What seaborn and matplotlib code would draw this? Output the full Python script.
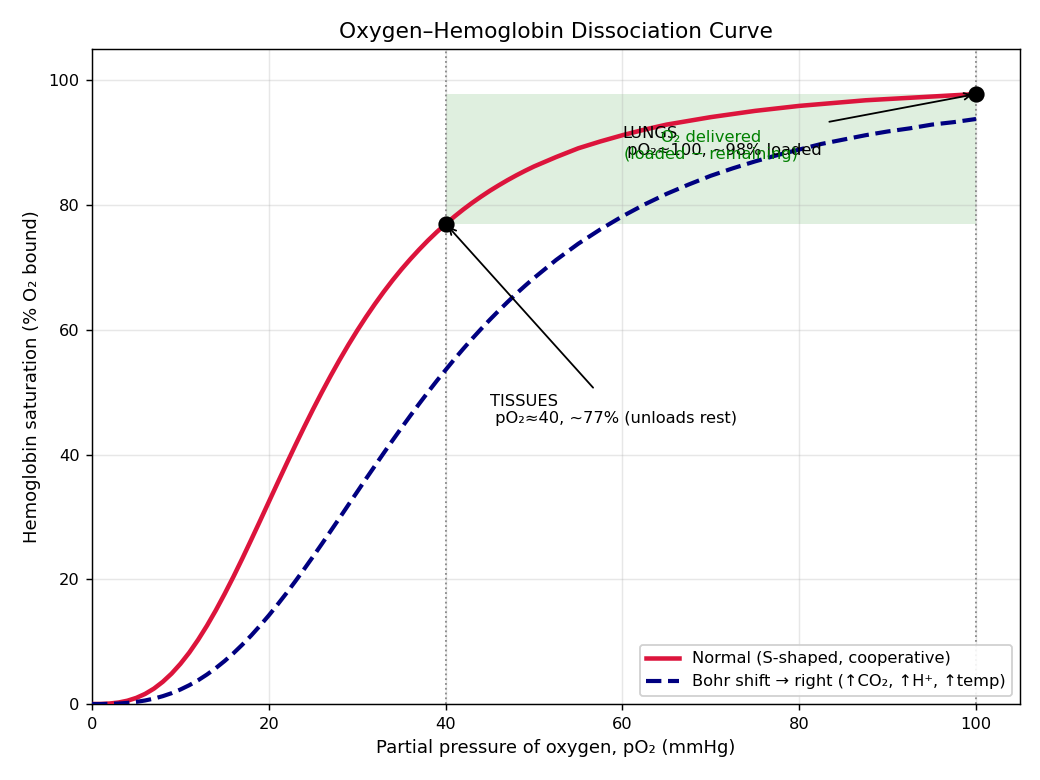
import numpy as np
import pandas as pd
import matplotlib
matplotlib.use('Agg')
import matplotlib.pyplot as plt
import seaborn as sns

# Hodnoty odčítané z grafu (pO2 v mmHg, saturácia v %)
po2 = [0, 1, 2, 3, 4, 5, 6, 7, 8, 9, 10, 11, 12, 13, 14, 15, 16, 17, 18, 19, 20,
       21, 22, 23, 24, 25, 26, 27, 28, 29, 30, 31, 32, 33, 34, 35, 36, 37, 38, 39,
       40, 41, 42, 43, 44, 45, 46, 47, 48, 49, 50, 52.5, 55, 57.5, 60, 62.5, 65,
       67.5, 70, 72.5, 75, 77.5, 80, 82.5, 85, 87.5, 90, 92.5, 95, 97.5, 100]
normal_sat = [0, 0.01, 0.08, 0.24, 0.53, 0.98, 1.62, 2.47, 3.56, 4.88, 6.45, 8.25,
              10.3, 12.56, 15.02, 17.66, 20.43, 23.33, 26.32, 29.35, 32.42, 35.48,
              38.51, 41.5, 44.42, 47.26, 50.0, 52.64, 55.17, 57.59, 59.89, 62.07,
              64.14, 66.1, 67.95, 69.69, 71.32, 72.86, 74.32, 75.68, 76.96, 78.17,
              79.3, 80.36, 81.35, 82.29, 83.16, 83.99, 84.77, 85.5, 86.19, 87.7, 89.1,
              90.2, 91.2, 92.1, 92.9, 93.5, 94.1, 94.6, 95.1, 95.5, 95.9, 96.2, 96.5,
              96.8, 97.0, 97.2, 97.4, 97.6, 97.8]
bohr_sat = [0, 0.0, 0.03, 0.08, 0.18, 0.34, 0.57, 0.87, 1.26, 1.74, 2.33, 3.02, 3.81,
            4.73, 5.76, 6.9, 8.15, 9.52, 10.98, 12.56, 14.21, 15.97, 17.79, 19.69,
            21.64, 23.64, 25.68, 27.75, 29.83, 31.94, 34.03, 36.13, 38.19, 40.25,
            42.28, 44.27, 46.22, 48.13, 50.0, 51.82, 53.57, 55.3, 56.96, 58.57, 60.12,
            61.62, 63.06, 64.45, 65.8, 67.08, 68.31, 71.2, 73.8, 76.1, 78.2, 80.1,
            81.8, 83.3, 84.7, 85.9, 87.0, 88.0, 88.9, 89.8, 90.5, 91.2, 91.8, 92.3,
            92.9, 93.3, 93.8]

# Kľúčové body: tkanivá a pľúca
key_po2 = [40, 100]
key_sat = [77.0, 97.8]

curves = pd.DataFrame({'po2': po2, 'normal': normal_sat, 'bohr': bohr_sat})
points = pd.DataFrame({'po2': key_po2, 'sat': key_sat})

plt.rcParams['font.family'] = ['DejaVu Sans']

fig, ax = plt.subplots(figsize=(8, 6), dpi=130)
fig.subplots_adjust(left=0.0885, right=0.981, bottom=0.0974, top=0.937)

# Zvýraznená oblasť dodaného O2
ax.fill_between([key_po2[0], key_po2[1]], key_sat[0], key_sat[1],
                color='green', alpha=0.125, lw=0, zorder=0)

for xv in key_po2:
    ax.axvline(xv, color='gray', ls=':', lw=1, zorder=1)

sns.lineplot(data=curves, x='po2', y='normal', ax=ax, color='crimson', lw=2.5,
             label='Normal (S-shaped, cooperative)', zorder=3)
sns.lineplot(data=curves, x='po2', y='bohr', ax=ax, color='navy', lw=2.3,
             linestyle='--', label='Bohr shift \u2192 right (\u2191CO\u2082, \u2191H\u207a, \u2191temp)',
             zorder=3)
ax.plot(points['po2'], points['sat'], 'o', color='black', ms=8, zorder=4)

ax.annotate('TISSUES\n pO\u2082\u224840, ~77% (unloads rest)',
            xy=(key_po2[0], key_sat[0]), xytext=(45, 45), fontsize=9,
            arrowprops=dict(arrowstyle='->', color='black', lw=1))
ax.annotate('LUNGS\n pO\u2082\u2248100, ~98% loaded',
            xy=(key_po2[1], key_sat[1]), xytext=(60, 88), fontsize=9,
            arrowprops=dict(arrowstyle='->', color='black', lw=1))
ax.text(70, 87.4, 'O\u2082 delivered\n(loaded \u2212 remaining)', color='green',
        fontsize=9, ha='center', va='baseline', multialignment='center')

ax.set_xlim(0, 105)
ax.set_ylim(0, 105)
ax.set_xticks([0, 20, 40, 60, 80, 100])
ax.set_yticks([0, 20, 40, 60, 80, 100])
ax.grid(True, color='#b0b0b0', alpha=0.3, lw=0.8)
ax.tick_params(labelsize=9)
ax.set_xlabel('Partial pressure of oxygen, pO\u2082 (mmHg)', fontsize=10)
ax.set_ylabel('Hemoglobin saturation (% O\u2082 bound)', fontsize=10)
ax.set_title('Oxygen\u2013Hemoglobin Dissociation Curve', fontsize=12)
ax.legend(loc='lower right', fontsize=9, framealpha=0.9)

fig.savefig('out.png', dpi=130)
